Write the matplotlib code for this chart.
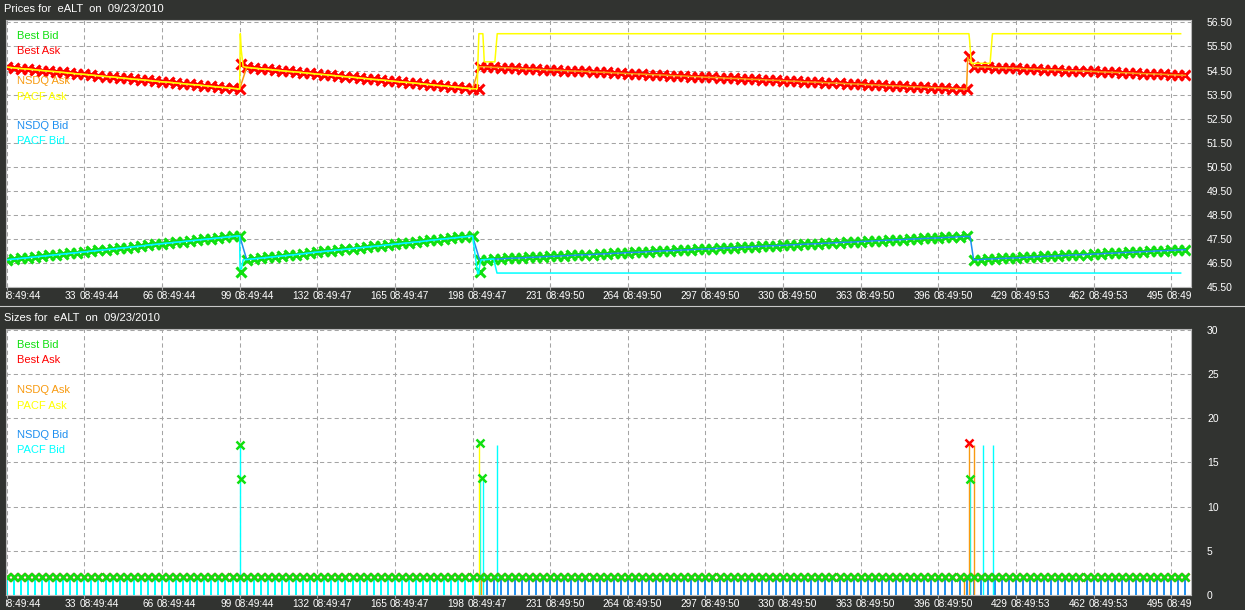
import matplotlib
matplotlib.use("Agg")
import matplotlib.pyplot as plt
from matplotlib.transforms import Bbox, TransformedBbox, blended_transform_factory, offset_copy

# ---------------- data ----------------
tick_idx = [0, 33, 66, 99, 132, 165, 198, 231, 264, 297, 330, 363, 396, 429, 462, 495]
tick_time = ["08:49:44", "08:49:44", "08:49:44", "08:49:44", "08:49:47", "08:49:47",
             "08:49:47", "08:49:50", "08:49:50", "08:49:50", "08:49:50", "08:49:50",
             "08:49:50", "08:49:53", "08:49:53", "08:49:53"]
price_ticks = [45.5, 46.5, 47.5, 48.5, 49.5, 50.5, 51.5, 52.5, 53.5, 54.5, 55.5, 56.5]
size_ticks = [0, 5, 10, 15, 20, 25, 30]

# quotes sampled every third update (0, 3, ..., 501)
sample_idx = list(range(0, 502, 3))

ask_run1 = [54.64, 54.61, 54.58, 54.56, 54.53, 54.50, 54.47, 54.45, 54.42, 54.39, 54.36, 54.34,
            54.31, 54.28, 54.25, 54.23, 54.20, 54.17, 54.14, 54.12, 54.09, 54.06, 54.03, 54.01,
            53.98, 53.95, 53.92, 53.90, 53.87, 53.84, 53.81, 53.79, 53.76, 53.73]
ask_run2 = [54.63, 54.60, 54.57, 54.55, 54.52, 54.49, 54.46, 54.44, 54.41, 54.38, 54.35, 54.33,
            54.30, 54.27, 54.24, 54.22, 54.19, 54.16, 54.13, 54.11, 54.08, 54.05, 54.02, 54.00,
            53.97, 53.94, 53.91, 53.88, 53.86, 53.83, 53.80, 53.77, 53.74]
ask_run3 = [54.66, 54.65, 54.63, 54.62, 54.61, 54.59, 54.58, 54.56, 54.55, 54.54, 54.52, 54.51,
            54.50, 54.48, 54.47, 54.46, 54.44, 54.43, 54.42, 54.40, 54.39, 54.37, 54.36, 54.35,
            54.33, 54.32, 54.31, 54.29, 54.28, 54.27, 54.25, 54.24, 54.22, 54.21, 54.20, 54.18,
            54.17, 54.16, 54.14, 54.13, 54.12, 54.10, 54.09, 54.08, 54.06, 54.05, 54.03, 54.02,
            54.01, 53.99, 53.98, 53.97, 53.95, 53.94, 53.93, 53.91, 53.90, 53.88, 53.87, 53.86,
            53.84, 53.83, 53.82, 53.80, 53.79, 53.78, 53.76, 53.75, 53.74, 53.72]
ask_run4 = [54.66, 54.65, 54.64, 54.62, 54.61, 54.60, 54.59, 54.58, 54.56, 54.55, 54.54, 54.53,
            54.52, 54.50, 54.49, 54.48, 54.47, 54.46, 54.44, 54.43, 54.42, 54.41, 54.40, 54.38,
            54.37, 54.36, 54.35, 54.34, 54.32, 54.31, 54.30]

bid_run1 = [46.63, 46.66, 46.69, 46.72, 46.75, 46.78, 46.81, 46.84, 46.87, 46.90, 46.93, 46.96,
            46.99, 47.02, 47.05, 47.08, 47.11, 47.14, 47.17, 47.20, 47.24, 47.27, 47.30, 47.33,
            47.36, 47.39, 47.42, 47.45, 47.48, 47.51, 47.54, 47.57, 47.60, 47.63]
bid_run2 = [46.64, 46.67, 46.70, 46.73, 46.76, 46.79, 46.82, 46.85, 46.88, 46.92, 46.95, 46.98,
            47.01, 47.04, 47.07, 47.10, 47.13, 47.16, 47.19, 47.22, 47.25, 47.28, 47.31, 47.34,
            47.37, 47.40, 47.44, 47.47, 47.50, 47.53, 47.56, 47.59, 47.62]
bid_run3 = [46.63, 46.64, 46.66, 46.67, 46.69, 46.70, 46.71, 46.73, 46.74, 46.76, 46.77, 46.78,
            46.80, 46.81, 46.83, 46.84, 46.85, 46.87, 46.88, 46.90, 46.91, 46.93, 46.94, 46.95,
            46.97, 46.98, 47.00, 47.01, 47.02, 47.04, 47.05, 47.07, 47.08, 47.09, 47.11, 47.12,
            47.14, 47.15, 47.16, 47.18, 47.19, 47.21, 47.22, 47.23, 47.25, 47.26, 47.28, 47.29,
            47.30, 47.32, 47.33, 47.35, 47.36, 47.37, 47.39, 47.40, 47.42, 47.43, 47.45, 47.46,
            47.47, 47.49, 47.50, 47.52, 47.53, 47.54, 47.56, 47.57, 47.59, 47.60]
bid_run4 = [46.63, 46.64, 46.66, 46.67, 46.69, 46.70, 46.71, 46.73, 46.74, 46.76, 46.77, 46.78,
            46.80, 46.81, 46.83, 46.84, 46.85, 46.87, 46.88, 46.90, 46.91, 46.93, 46.94, 46.95,
            46.97, 46.98, 47.00, 47.01, 47.02, 47.04, 47.05]

best_ask = ask_run1 + ask_run2 + ask_run3 + ask_run4
best_bid = bid_run1 + bid_run2 + bid_run3 + bid_run4

# odd quotes around the three resets
ask_extra_idx = [99.5, 200.7, 409.0]
ask_extra_px = [54.78, 53.72, 55.12]
bid_extra_idx = [99.4, 201.2]
bid_extra_px = [46.12, 46.12]

pacf_ask_jump1_idx = [99.3, 99.7, 100.5]
pacf_ask_jump1_px = [56.03, 55.35, 54.66]
pacf_ask_tail_idx = [200.0, 200.3, 200.7, 202.4, 203.0, 207.5, 208.5, 409.0, 409.3, 410.0, 418.0, 419.0, 499.0]
pacf_ask_tail_px = [53.74, 54.86, 56.03, 56.03, 54.86, 54.86, 56.03, 56.03, 55.75, 54.80, 54.80, 56.03, 56.03]
nsdq_ask_jump_idx = [408.5, 409.5, 410.2]
nsdq_ask_jump_px = [55.05, 54.85, 54.82]

pacf_bid_jump1_idx = [99.2, 99.8, 100.5]
pacf_bid_jump1_px = [46.25, 46.25, 46.63]
pacf_bid_tail_idx = [200.2, 200.6, 201.2, 201.8, 207.0, 208.4, 499.0]
pacf_bid_tail_px = [46.05, 46.05, 46.50, 46.63, 46.66, 46.08, 46.08]
nsdq_bid_jump_idx = [409.5]
nsdq_bid_jump_px = [47.60]

# sizes
quote_size = [2, 2, 2, 2, 2, 2, 2, 2, 2, 2, 2, 2, 2, 2, 2, 2, 2, 2, 2, 2, 2, 2, 2, 2,
              2, 2, 2, 2, 2, 2, 2, 2, 2, 2, 2, 2, 2, 2, 2, 2, 2, 2, 2, 2, 2, 2, 2, 2,
              2, 2, 2, 2, 2, 2, 2, 2, 2, 2, 2, 2, 2, 2, 2, 2, 2, 2, 2, 2, 2, 2, 2, 2,
              2, 2, 2, 2, 2, 2, 2, 2, 2, 2, 2, 2, 2, 2, 2, 2, 2, 2, 2, 2, 2, 2, 2, 2,
              2, 2, 2, 2, 2, 2, 2, 2, 2, 2, 2, 2, 2, 2, 2, 2, 2, 2, 2, 2, 2, 2, 2, 2,
              2, 2, 2, 2, 2, 2, 2, 2, 2, 2, 2, 2, 2, 2, 2, 2, 2, 2, 2, 2, 2, 2, 2, 2,
              2, 2, 2, 2, 2, 2, 2, 2, 2, 2, 2, 2, 2, 2, 2, 2, 2, 2, 2, 2, 2, 2, 2, 2]
bid_size_spike_idx = [99.2, 99.6, 201.2, 202.0, 409.6]
bid_size_spike = [17.0, 13.1, 17.2, 13.2, 13.1]
ask_size_spike_idx = [409.0]
ask_size_spike = [17.2]
pacf_bid_size_spike_idx = [99.2, 201.0, 202.6, 208.4, 409.6, 415.0, 419.4]
pacf_bid_size_spike = [17, 13, 13, 17, 13, 17, 17]
nsdq_ask_size_idx = [201.8, 407.0, 409.0, 411.2]
nsdq_ask_size = [2, 2, 17, 17]
pacf_ask_size_idx = [200.9]
pacf_ask_size = [17]

# ---------------- style ----------------
BG = "#313330"
GRID = "#a4a4a4"
C_BID = "#10e010"
C_ASK = "#ff0000"
C_NASK = "#f89a10"
C_PASK = "#ffff00"
C_NBID = "#1e8ff0"
C_PBID = "#00ffff"
FONT = ["Liberation Sans", "DejaVu Sans"]

W, H = 1245, 610
fig = plt.figure(figsize=(W / 100, H / 100), dpi=100, facecolor=BG)


def px_axes(x0, y0, x1, y1):
    return fig.add_axes([x0 / W, 1 - y1 / H, (x1 - x0) / W, (y1 - y0) / H])


ax1 = px_axes(6, 20, 1191, 287)
ax2 = px_axes(6, 329, 1191, 595)

legend_items = [("Best Bid", C_BID, 16), ("Best Ask", C_ASK, 31), ("NSDQ Ask", C_NASK, 61),
                ("PACF Ask", C_PASK, 77), ("NSDQ Bid", C_NBID, 106), ("PACF Bid", C_PBID, 121)]

for ax, top, title in [(ax1, 20, "Prices for  eALT  on  09/23/2010"),
                       (ax2, 329, "Sizes for  eALT  on  09/23/2010")]:
    ax.set_facecolor("white")
    ax.set_xlim(-0.3, 503.4)
    for s in ax.spines.values():
        s.set_color("#b8b8b8")
        s.set_linewidth(0.8)
    ax.set_xticks(tick_idx)
    ax.tick_params(axis="x", direction="inout", length=5, color=GRID, labelbottom=False)
    ax.yaxis.tick_right()
    ax.tick_params(axis="y", length=0, pad=11.5, labelcolor="white", labelsize=7.5)
    for lab in ax.get_yticklabels():
        lab.set_family(FONT)
    ax.grid(True, color=GRID, linestyle=(0, (4, 3)), linewidth=0.75)
    ax.set_axisbelow(True)
    fig.text(4 / W, 1 - (top - 11) / H, title, color="white", fontsize=8, family=FONT,
             ha="left", va="center")
    for name, col, dy in legend_items:
        fig.text(17 / W, 1 - (top + dy) / H, name, color=col, fontsize=8, family=FONT,
                 ha="left", va="center")
    # time axis labels, clipped to the plot width like the original
    base = blended_transform_factory(ax.transData, ax.transAxes)
    clip = TransformedBbox(Bbox([[0, -1], [1, 0]]), ax.transAxes)
    for i, t in zip(tick_idx, tick_time):
        t1 = ax.text(i, 0, str(i), transform=offset_copy(base, fig=fig, x=-8, y=-9, units="dots"),
                     ha="right", va="center", color="white", fontsize=7.3, family=FONT, clip_on=True)
        t2 = ax.text(i, 0, t, transform=offset_copy(base, fig=fig, x=-5, y=-9, units="dots"),
                     ha="left", va="center", color="white", fontsize=7.3, family=FONT, clip_on=True)
        t1.set_clip_box(clip)
        t2.set_clip_box(clip)

# separator between panels
fig.add_artist(plt.Line2D([0, 1], [1 - 306 / H, 1 - 306 / H], color="#c8c8c8", lw=0.8,
                          transform=fig.transFigure))

# ---------------- prices ----------------
mk = dict(linestyle="none", marker="x", markersize=7.0, markeredgewidth=2.2)
ax1.plot(sample_idx, best_ask, color=C_ASK, **mk)
ax1.plot(ask_extra_idx, ask_extra_px, color=C_ASK, **mk)
ax1.plot(sample_idx, best_bid, color=C_BID, **mk)
ax1.plot(bid_extra_idx, bid_extra_px, color=C_BID, **mk)

nsdq_ask_x = sample_idx[:137] + nsdq_ask_jump_idx + sample_idx[137:]
nsdq_ask_y = best_ask[:137] + nsdq_ask_jump_px + best_ask[137:]
ax1.plot(nsdq_ask_x, nsdq_ask_y, color=C_NASK, lw=1.1)
pacf_ask_x = sample_idx[:34] + pacf_ask_jump1_idx + sample_idx[34:67] + pacf_ask_tail_idx
pacf_ask_y = best_ask[:34] + pacf_ask_jump1_px + best_ask[34:67] + pacf_ask_tail_px
ax1.plot(pacf_ask_x, pacf_ask_y, color=C_PASK, lw=1.1)

nsdq_bid_x = sample_idx[:137] + nsdq_bid_jump_idx + sample_idx[137:]
nsdq_bid_y = best_bid[:137] + nsdq_bid_jump_px + best_bid[137:]
ax1.plot(nsdq_bid_x, nsdq_bid_y, color=C_NBID, lw=1.1)
pacf_bid_x = sample_idx[:34] + pacf_bid_jump1_idx + sample_idx[34:67] + pacf_bid_tail_idx
pacf_bid_y = best_bid[:34] + pacf_bid_jump1_px + best_bid[34:67] + pacf_bid_tail_px
ax1.plot(pacf_bid_x, pacf_bid_y, color=C_PBID, lw=1.1)

ax1.set_ylim(45.5, 56.6)
ax1.set_yticks(price_ticks)
ax1.set_yticklabels([f"{v:.2f}" for v in price_ticks])

# ---------------- sizes ----------------
ax2.vlines(sample_idx[:67], 0, quote_size[:67], color=C_PBID, lw=1.4)
ax2.vlines(sample_idx[67:], 0, quote_size[67:], color=C_NBID, lw=1.4)
ax2.vlines(pacf_bid_size_spike_idx, 0, pacf_bid_size_spike, color=C_PBID, lw=1.0)
ax2.vlines(nsdq_ask_size_idx, 0, nsdq_ask_size, color=C_NASK, lw=1.0)
ax2.vlines(pacf_ask_size_idx, 0, pacf_ask_size, color=C_PASK, lw=1.0)
mk2 = dict(linestyle="none", marker="x", markersize=6.0, markeredgewidth=1.8)
ax2.plot(sample_idx, quote_size, color=C_ASK, **mk2)
ax2.plot(ask_size_spike_idx, ask_size_spike, color=C_ASK, **mk2)
ax2.plot(sample_idx, quote_size, color=C_BID, **mk2)
ax2.plot(bid_size_spike_idx, bid_size_spike, color=C_BID, **mk2)

ax2.set_ylim(0, 30.1)
ax2.set_yticks(size_ticks)
ax2.set_yticklabels([str(v) for v in size_ticks])

fig.savefig("out.png", dpi=100, facecolor=BG)
